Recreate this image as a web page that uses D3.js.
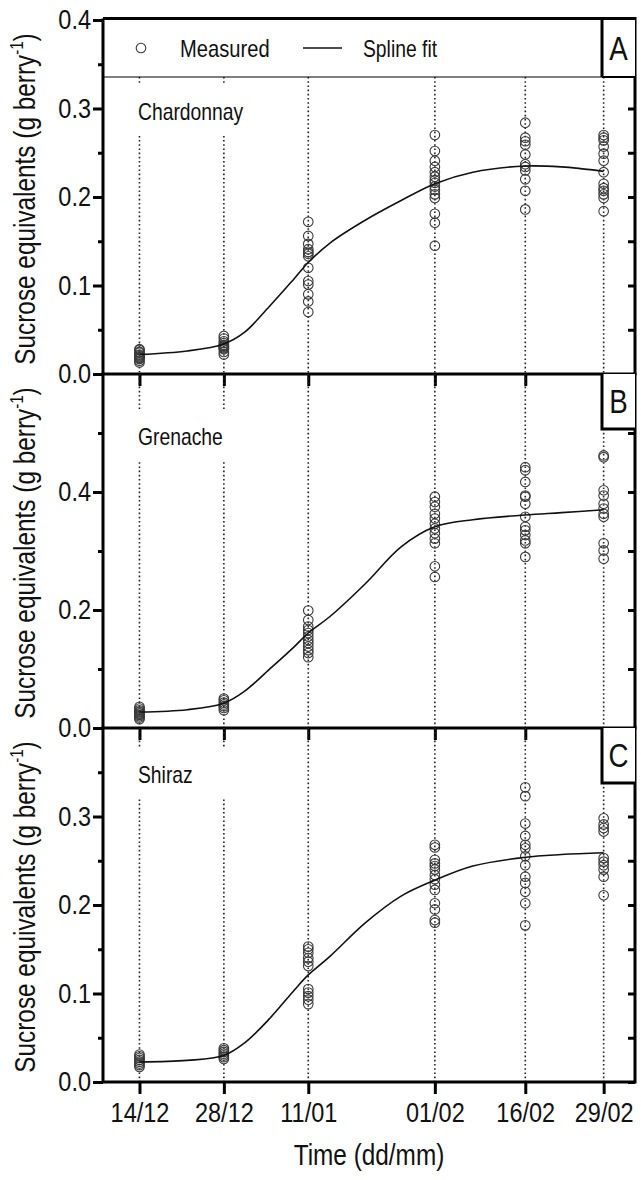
<!DOCTYPE html>
<html>
<head>
<meta charset="utf-8">
<script src="https://cdn.jsdelivr.net/npm/d3@7"></script>
<style>
  body { margin: 0; background: #fff; }
  svg text { font-family: "Liberation Sans", Arial, sans-serif; fill: #111; }
</style>
</head>
<body>
<svg id="chart" width="641" height="1180"></svg>
<script>
// sampling dates, as days after 14 Dec
var sampleDays = [0, 14, 28, 49, 64, 77];
var dateLabels = ['14/12', '28/12', '11/01', '01/02', '16/02', '29/02'];

var cultivars = ['Chardonnay', 'Grenache', 'Shiraz'];
var panelLetters = ['A', 'B', 'C'];
var yMaxes = [0.4, 0.6, 0.4];
var majorTicks = [[0, 0.1, 0.2, 0.3, 0.4], [0, 0.2, 0.4], [0, 0.1, 0.2, 0.3]];
var minorTicks = [[0.05, 0.15, 0.25, 0.35], [0.1, 0.3, 0.5], [0.05, 0.15, 0.25, 0.35]];

// measured berries, one list per sampling date (g berry-1)
var chardonnayMeasured = [
  [0.013, 0.015, 0.017, 0.018, 0.019, 0.020, 0.021, 0.022, 0.024, 0.025, 0.027, 0.028],
  [0.022, 0.025, 0.028, 0.029, 0.030, 0.031, 0.032, 0.033, 0.035, 0.037, 0.040, 0.043],
  [0.070, 0.082, 0.090, 0.101, 0.105, 0.120, 0.133, 0.136, 0.138, 0.141, 0.147, 0.156, 0.172],
  [0.145, 0.171, 0.181, 0.199, 0.203, 0.208, 0.212, 0.216, 0.219, 0.223, 0.228, 0.234, 0.241, 0.252, 0.270],
  [0.186, 0.207, 0.220, 0.230, 0.234, 0.237, 0.248, 0.259, 0.263, 0.267, 0.284],
  [0.184, 0.199, 0.203, 0.207, 0.210, 0.215, 0.228, 0.241, 0.249, 0.257, 0.264, 0.267, 0.270]
];
var grenacheMeasured = [
  [0.015, 0.018, 0.020, 0.022, 0.024, 0.025, 0.027, 0.028, 0.030, 0.033, 0.036],
  [0.030, 0.034, 0.037, 0.040, 0.043, 0.047, 0.050],
  [0.120, 0.127, 0.132, 0.138, 0.144, 0.149, 0.155, 0.161, 0.166, 0.172, 0.183, 0.199],
  [0.256, 0.274, 0.313, 0.321, 0.330, 0.338, 0.346, 0.355, 0.363, 0.375, 0.383, 0.392],
  [0.290, 0.313, 0.318, 0.327, 0.335, 0.341, 0.358, 0.380, 0.392, 0.394, 0.417, 0.437, 0.442],
  [0.287, 0.301, 0.313, 0.358, 0.363, 0.372, 0.380, 0.394, 0.403, 0.459, 0.462]
];
var shirazMeasured = [
  [0.017, 0.019, 0.021, 0.023, 0.025, 0.027, 0.029, 0.031],
  [0.026, 0.028, 0.030, 0.032, 0.034, 0.036, 0.038],
  [0.088, 0.093, 0.097, 0.101, 0.105, 0.131, 0.136, 0.140, 0.146, 0.150, 0.153],
  [0.180, 0.183, 0.195, 0.202, 0.217, 0.223, 0.229, 0.234, 0.240, 0.244, 0.247, 0.251, 0.265, 0.268],
  [0.177, 0.202, 0.215, 0.225, 0.232, 0.245, 0.255, 0.264, 0.268, 0.278, 0.292, 0.323, 0.333],
  [0.211, 0.232, 0.240, 0.245, 0.249, 0.253, 0.283, 0.287, 0.291, 0.298]
];

// spline fit
var splineDays = [0, 7.9, 14, 17.4, 21.5, 25.7, 28, 31.6, 37.5, 43.4, 49, 55.3, 64, 70, 77];
var chardonnaySpline = [0.022, 0.026, 0.034, 0.047, 0.076, 0.108, 0.126, 0.148, 0.174, 0.196, 0.215, 0.228, 0.235, 0.234, 0.229];
var grenacheSpline = [0.027, 0.031, 0.042, 0.062, 0.099, 0.138, 0.161, 0.189, 0.245, 0.307, 0.341, 0.353, 0.361, 0.365, 0.370];
var shirazSpline = [0.0226, 0.0244, 0.030, 0.044, 0.071, 0.104, 0.121, 0.142, 0.180, 0.210, 0.228, 0.244, 0.254, 0.257, 0.259];

var measuredSets = [chardonnayMeasured, grenacheMeasured, shirazMeasured];
var splineSets = [chardonnaySpline, grenacheSpline, shirazSpline];

// layout
var left = 103, right = 635,
    panelTop = [20, 374, 728],
    panelH = 354,
    legendBottom = 77,
    nameBaseline = [120, 445, 783];

var svg = d3.select('#chart');

var x = d3.scaleLinear()
    .domain([-6.05, 82.2])
    .range([left, right]);

var line = d3.line().curve(d3.curveCatmullRom.alpha(0.5));

cultivars.forEach(function(name, i) {
  var top = panelTop[i], bottom = top + panelH;
  var y = d3.scaleLinear().domain([0, yMaxes[i]]).range([bottom, top]);
  var g = svg.append('g');

  // dotted guide lines at each sampling date
  g.selectAll('line.guide').data(sampleDays)
    .enter().append('line')
      .attr('class', 'guide')
      .attr('x1', function(d) { return x(d); })
      .attr('x2', function(d) { return x(d); })
      .attr('y1', i === 0 ? legendBottom : top)
      .attr('y2', bottom)
      .attr('stroke', '#222')
      .attr('stroke-width', 1.6)
      .attr('stroke-dasharray', '1.6,2.6');

  // white patch behind the cultivar name
  g.append('rect')
    .attr('x', 126).attr('y', nameBaseline[i] - 36)
    .attr('width', 128).attr('height', 52)
    .attr('fill', '#fff');
  g.append('text')
    .attr('x', 138).attr('y', nameBaseline[i])
    .attr('font-size', 23)
    .text(name);

  // measured values
  var pts = [];
  measuredSets[i].forEach(function(vals, j) {
    vals.forEach(function(v) { pts.push([sampleDays[j], v]); });
  });
  g.selectAll('circle.pt').data(pts)
    .enter().append('circle')
      .attr('class', 'pt')
      .attr('cx', function(d) { return x(d[0]); })
      .attr('cy', function(d) { return y(d[1]); })
      .attr('r', 4.8)
      .attr('fill', 'none')
      .attr('stroke', '#3a3a3a')
      .attr('stroke-width', 1.1);

  // spline fit
  var fit = splineDays.map(function(d, k) { return [x(d), y(splineSets[i][k])]; });
  g.append('path')
    .attr('d', line(fit))
    .attr('fill', 'none')
    .attr('stroke', '#111')
    .attr('stroke-width', 1.6);

  // left axis
  var yAxis = g.append('g')
    .attr('transform', 'translate(' + left + ',0)')
    .call(d3.axisLeft(y).tickValues(majorTicks[i]).tickSize(10).tickPadding(2)
      .tickFormat(d3.format('.1f')));
  yAxis.selectAll('text').attr('font-size', 28).attr('font-family', null);
  var yMinor = g.append('g')
    .attr('transform', 'translate(' + left + ',0)')
    .call(d3.axisLeft(y).tickValues(minorTicks[i]).tickSize(5).tickFormat(''));

  // right axis, ticks inward
  var yRight = g.append('g')
    .attr('transform', 'translate(' + right + ',0)')
    .call(d3.axisLeft(y).tickValues(majorTicks[i].concat(minorTicks[i])).tickSize(7).tickFormat(''));

  // bottom axis
  var xAxis = g.append('g')
    .attr('transform', 'translate(0,' + bottom + ')')
    .call(d3.axisBottom(x).tickValues(sampleDays).tickSize(12).tickPadding(8)
      .tickFormat(i === 2 ? function(d, k) { return dateLabels[k]; } : ''));
  xAxis.selectAll('text').attr('font-size', 28).attr('font-family', null);

  [yAxis, yMinor, yRight, xAxis].forEach(function(a) {
    a.select('.domain').remove();
    a.selectAll('line').attr('stroke', '#000').attr('stroke-width', 3);
  });

  // frame
  g.append('path')
    .attr('d', 'M' + left + ',' + (top - 1.5) + 'V' + bottom + 'H' + right + 'V' + (top - 1.5) +
      (i === 0 ? 'H' + left : ''))
    .attr('fill', 'none')
    .attr('stroke', '#000')
    .attr('stroke-width', 3);

  // panel letter box
  var boxW = 33, boxH = i === 0 ? legendBottom - top : 55;
  g.append('rect')
    .attr('x', right - boxW).attr('y', top)
    .attr('width', boxW).attr('height', boxH)
    .attr('fill', '#fff');
  g.append('path')
    .attr('d', 'M' + (right - boxW) + ',' + top + 'V' + (top + boxH) + (i === 0 ? '' : 'H' + right))
    .attr('fill', 'none')
    .attr('stroke', '#000')
    .attr('stroke-width', 3);
  g.append('text')
    .attr('x', right - boxW / 2).attr('y', top + boxH / 2 + 12)
    .attr('text-anchor', 'middle')
    .attr('font-size', 33)
    .text(panelLetters[i]);

  // y title
  var t = g.append('text')
    .attr('transform', 'translate(35,' + (top + panelH / 2 + 2) + ') rotate(-90)')
    .attr('text-anchor', 'middle')
    .attr('font-size', 29);
  t.append('tspan').text('Sucrose equivalents (g berry');
  t.append('tspan').attr('dy', -12).attr('font-size', 18).text('-1');
  t.append('tspan').attr('dy', 12).text(')');
});

// legend strip at top of panel A
svg.append('line')
  .attr('x1', left).attr('x2', right - 33)
  .attr('y1', legendBottom).attr('y2', legendBottom)
  .attr('stroke', '#000').attr('stroke-width', 1.2);
svg.append('line')
  .attr('x1', right - 33).attr('x2', right)
  .attr('y1', legendBottom).attr('y2', legendBottom)
  .attr('stroke', '#000').attr('stroke-width', 2);
svg.append('circle')
  .attr('cx', 141).attr('cy', 48).attr('r', 4.8)
  .attr('fill', 'none').attr('stroke', '#3a3a3a').attr('stroke-width', 1.1);
svg.append('text').attr('x', 180).attr('y', 57).attr('font-size', 24).text('Measured');
svg.append('line')
  .attr('x1', 303).attr('x2', 342).attr('y1', 48).attr('y2', 48)
  .attr('stroke', '#111').attr('stroke-width', 1.6);
svg.append('text').attr('x', 363).attr('y', 57).attr('font-size', 23).text('Spline fit');

// x title
svg.append('text')
  .attr('x', (left + right) / 2).attr('y', 1165)
  .attr('text-anchor', 'middle')
  .attr('font-size', 29)
  .text('Time (dd/mm)');

// the original lettering is a condensed face: squeeze every label
// horizontally about its own anchor point
var squeeze = 0.84;
svg.selectAll('text').each(function() {
  var el = d3.select(this);
  var ax = +el.attr('x') || 0;
  var tr = el.attr('transform') || '';
  el.attr('transform', tr + ' translate(' + (ax * (1 - squeeze)) + ',0) scale(' + squeeze + ',1)');
});
</script>
</body>
</html>
